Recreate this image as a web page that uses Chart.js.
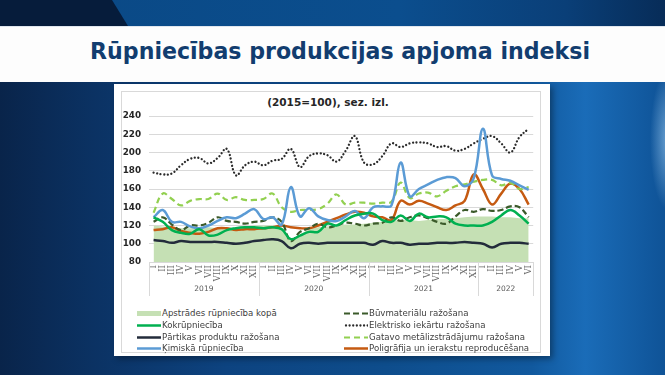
<!DOCTYPE html>
<html>
<head>
<meta charset="utf-8">
<script src="https://cdn.jsdelivr.net/npm/chart.js@4.4.1/dist/chart.umd.min.js"></script>
<style>
  body { margin: 0; }
  #slide {
    position: relative; width: 665px; height: 375px; overflow: hidden;
    font-family: "DejaVu Sans", Verdana, sans-serif;
    background:
      radial-gradient(ellipse 18px 70px at 668px 140px, rgba(170,215,250,0.6), rgba(170,215,250,0) 100%),
      linear-gradient(90deg, #09244a 0%, #0b3263 14%, #0d4380 34%, #0e4d8c 58%, #11599e 80%, #1a6cb8 88%, #0f5397 100%);
  }
  #topband {
    position: absolute; left: 0; top: 0; width: 665px; height: 26px;
    background: linear-gradient(90deg, #0a4884 0%, #0b4e8e 60%, #0a3f78 85%, #072c58 100%);
  }
  #wedge {
    position: absolute; left: 0; top: 0; width: 140px; height: 26px; background: #061c3b;
    clip-path: polygon(0 0, 112px 0, 128px 26px, 0 26px);
  }
  #banner {
    position: absolute; left: 0; top: 26px; width: 665px; height: 55px;
    background: #fdfdfd; border-top: 1px solid #dfe6ee;
  }
  #title {
    position: absolute; left: 0; top: 38px; width: 680px; text-align: center;
    font-weight: bold; font-size: 23px; color: #123d6f; white-space: nowrap;
  }
  #title span { display: inline-block; font-family: "DejaVu Sans Condensed", "DejaVu Sans", sans-serif; font-stretch: condensed; transform-origin: 50% 50%; }
  #outer {
    position: absolute; left: 114px; top: 84px; width: 436px; height: 272px;
    background: #ffffff; box-shadow: 3px 3px 6px rgba(0,0,0,0.35);
  }
  #inner {
    position: absolute; left: 121px; top: 91px; width: 420px; height: 262px;
    border: 1px solid #d9d9d9; box-sizing: border-box;
  }
  #sub {
    position: absolute; left: 121px; top: 96px; width: 414px; text-align: center;
    font-weight: bold; font-size: 10.5px; color: #262626;
  }
  #chart { position: absolute; left: 121px; top: 91px; }
  .leg { position: absolute; font-size: 8.6px; color: #404040; white-space: nowrap; height: 11px; line-height: 11px; }
  .leg canvas { vertical-align: top; margin-right: 1px; }
</style>
</head>
<body>
<div id="slide">
  <div id="topband"></div>
  <div id="wedge"></div>
  <div id="banner"></div>
  <div id="title"><span>Rūpniecības produkcijas apjoma indeksi</span></div>
  <div id="outer"></div>
  <div id="inner"></div>
  <div id="sub">(2015=100), sez. izl.</div>
  <canvas id="chart" width="421" height="211"></canvas>
  <div id="legend"></div>
</div>
<script>
// months and years on the category axis
const romans = ['I', 'II', 'III', 'IV', 'V', 'VI', 'VII', 'VIII', 'IX', 'X', 'XI', 'XII'];
const years = ['2019', '2020', '2021', '2022'];
const monthsPerYear = [12, 12, 12, 6];

// y axis
const yMin = 80, yMax = 240, yStep = 20;

// series (2019 I .. 2022 VI)
const apstrades = [120,119,118,117,117,118,118,117,117,118,119,120,
                   120,120,118,104,110,116,118,119,120,121,121,122,
                   123,124,125,126,126,125,126,127,127,128,129,130,
                   130,130,129,129,128,128];
const kokrupn   = [129,124,115,112,111,116,109,110,115,117,118,118,
                   117,118,116,105,109,113,113,122,120,126,131,133,
                   133,126,124,131,125,133,129,130,129,122,120,120,
                   120,124,131,137,131,122];
const partikas  = [104,103,101,103,102,102,102,102,101,100,101,103,
                   104,105,103,95,100,101,100,101,101,101,101,101,
                   99,103,101,101,99,100,100,101,101,101,102,101,
                   100,96,100,101,101,100];
const kimiska   = [129,137,124,124,119,117,120,125,129,128,133,138,
                   127,129,121,162,130,139,130,126,125,130,136,128,
                   140,141,142,189,152,160,165,170,173,172,163,172,
                   226,175,171,169,164,159];
const buvmat    = [124,129,121,115,120,120,123,129,125,124,122,124,
                   125,129,124,103,113,117,122,118,120,123,122,120,
                   122,123,129,125,129,131,128,124,122,130,137,135,
                   138,136,137,141,140,129];
const elektr    = [178,176,177,186,193,194,188,194,204,175,186,190,
                   186,191,193,204,184,196,199,197,190,202,218,189,
                   187,196,210,206,210,211,210,206,207,202,204,210,
                   215,218,210,200,217,226];
const gatavo    = [134,155,149,142,147,149,149,155,148,151,148,148,
                   149,155,140,135,137,137,138,144,154,143,145,145,
                   144,145,146,167,150,155,156,152,158,163,165,168,
                   170,170,164,167,160,162];
const poligr    = [115,116,118,114,112,111,113,117,117,115,116,116,
                   117,118,120,118,117,117,120,124,128,132,135,134,
                   130,129,126,147,143,147,144,140,137,142,147,176,
                   160,143,155,166,160,143];

const monthLabels = [];
years.forEach((y, k) => {
  for (let m = 0; m < monthsPerYear[k]; m++) monthLabels.push(romans[m]);
});

function lineSet(label, data, color, dash, width, cap) {
  return {
    label: label, data: data, borderColor: color, backgroundColor: color,
    borderWidth: width, borderDash: dash, borderCapStyle: cap || 'butt',
    borderJoinStyle: 'round', tension: 0.4, fill: false, pointRadius: 0
  };
}

const datasets = [
  { label: 'Apstrādes rūpniecība kopā', data: apstrades, backgroundColor: '#c5e0b4',
    borderColor: '#c5e0b4', borderWidth: 0, fill: 'start', tension: 0, pointRadius: 0, order: 10, isArea: true },
  lineSet('Kokrūpniecība', kokrupn, '#00b050', [], 2.5),
  lineSet('Pārtikas produktu ražošana', partikas, '#232c3b', [], 2.5),
  lineSet('Ķimiskā rūpniecība', kimiska, '#5b9bd5', [], 2.5),
  lineSet('Būvmateriālu ražošana', buvmat, '#3b5a2a', [6, 3], 2.2),
  lineSet('Elektrisko iekārtu ražošana', elektr, '#2b2b2b', [0.01, 3.6], 2.3, 'round'),
  lineSet('Gatavo metālizstrādājumu ražošana', gatavo, '#92d050', [6, 4], 2.2),
  lineSet('Poligrāfija un ierakstu reproducēšana', poligr, '#c55a11', [], 2.5)
];

// year labels and separators under the month labels
const yearAxis = {
  id: 'yearAxis',
  afterDraw(chart) {
    const x = chart.scales.x, ctx = chart.ctx, bottom = chart.chartArea.bottom;
    const half = (x.getPixelForValue(1) - x.getPixelForValue(0)) / 2;
    ctx.save();
    ctx.strokeStyle = '#d9d9d9';
    ctx.lineWidth = 1;
    ctx.fillStyle = '#595959';
    ctx.font = '7.5px "DejaVu Sans"';
    ctx.textAlign = 'center';
    ctx.textBaseline = 'middle';
    let start = 0;
    years.forEach((yr, k) => {
      const end = start + monthsPerYear[k] - 1;
      const x0 = x.getPixelForValue(start) - half;
      const x1 = x.getPixelForValue(end) + half;
      [x0, x1].forEach(px => {
        const p = Math.round(px) + 0.5;
        ctx.beginPath();
        ctx.moveTo(p, bottom);
        ctx.lineTo(p, bottom + 34);
        ctx.stroke();
      });
      ctx.fillText(yr, (x0 + x1) / 2, bottom + 27);
      start = end + 1;
    });
    ctx.restore();
  }
};

const chart = new Chart(document.getElementById('chart').getContext('2d'), {
  type: 'line',
  data: { labels: monthLabels, datasets: datasets },
  options: {
    responsive: false,
    animation: false,
    devicePixelRatio: 1,
    layout: { padding: { top: 25, right: 2, left: 0, bottom: 0 } },
    plugins: { legend: { display: false }, title: { display: false }, tooltip: { enabled: false } },
    elements: { point: { radius: 0 } },
    scales: {
      x: {
        offset: true,
        grid: { display: false, drawTicks: false },
        border: { color: '#d9d9d9' },
        ticks: {
          autoSkip: false, minRotation: 90, maxRotation: 90, padding: 3,
          color: '#6b6b6b', font: { family: 'DejaVu Serif', size: 8.6 }
        },
        afterFit(scale) { scale.height = 40; }
      },
      y: {
        min: yMin, max: yMax,
        grid: { color: '#d9d9d9', drawTicks: false },
        border: { display: false },
        ticks: {
          stepSize: yStep, padding: 8, color: '#262626',
          font: { family: 'DejaVu Sans', size: 8.8, weight: 'bold' }
        },
        afterFit(scale) { scale.width = 28; }
      }
    }
  },
  plugins: [yearAxis]
});

// legend in two columns, built from the datasets
const legendOrder = [0, 4, 1, 5, 2, 6, 3, 7];
const legendBox = document.getElementById('legend');
legendOrder.forEach((di, n) => {
  const ds = chart.data.datasets[di];
  const col = n % 2, row = Math.floor(n / 2);
  const item = document.createElement('div');
  item.className = 'leg';
  item.style.left = (col ? 344 : 137) + 'px';
  item.style.top = (308 + row * 11.8) + 'px';
  const sw = document.createElement('canvas');
  sw.width = 24; sw.height = 11;
  const c = sw.getContext('2d');
  if (ds.isArea) {
    c.fillStyle = ds.backgroundColor;
    c.fillRect(0, 3, 24, 5);
  } else {
    c.strokeStyle = ds.borderColor;
    c.lineWidth = ds.borderWidth;
    c.lineCap = ds.borderCapStyle;
    c.setLineDash(ds.borderDash);
    c.beginPath();
    c.moveTo(ds.borderCapStyle === 'round' ? 2 : 0, 5.5);
    c.lineTo(24, 5.5);
    c.stroke();
  }
  item.appendChild(sw);
  item.appendChild(document.createTextNode(ds.label));
  legendBox.appendChild(item);
});

// fit the title to the banner width
const tspan = document.querySelector('#title span');
const tw = tspan.getBoundingClientRect().width;
tspan.style.transform = 'scaleX(' + (500 / tw).toFixed(3) + ')';
</script>
</body>
</html>
